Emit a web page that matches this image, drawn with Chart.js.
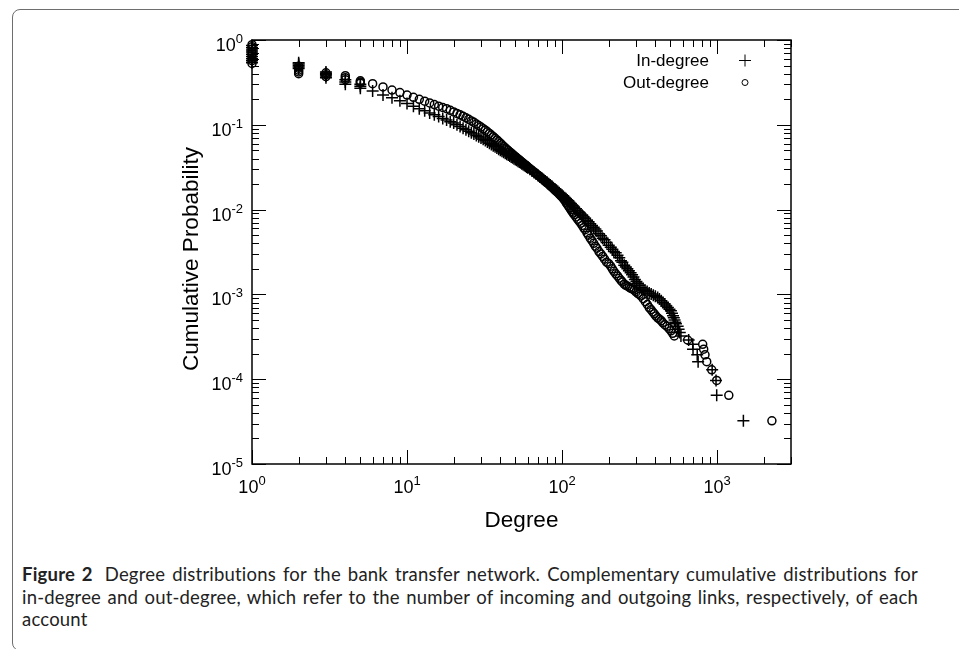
<!DOCTYPE html>
<html>
<head>
<meta charset="utf-8">
<script src="https://cdn.jsdelivr.net/npm/chart.js@4.4.0/dist/chart.umd.min.js"></script>
<style>
  html, body { margin: 0; padding: 0; background: #fff; }
  body { width: 959px; height: 649px; position: relative; overflow: hidden; }
  #frame { position: absolute; left: 12px; top: 9px; width: 1000px; height: 642px; border: 1.5px solid #6e6e6e; border-radius: 8px; box-sizing: border-box; }
  #chart { position: absolute; left: 0; top: 0; }
  #caption { position: absolute; left: 22px; top: 563px; width: 896px; font-family: Lato, "Open Sans", sans-serif; font-size: 18.5px; letter-spacing: 0.2px; line-height: 22.5px; color: #222; }
  #caption span { display: block; text-align: justify; text-align-last: justify; white-space: nowrap; }
  #caption span.last { text-align-last: left; }
  #caption b { margin-right: 5px; }
</style>
</head>
<body>
<div id="frame"></div>
<canvas id="chart" width="959" height="560"></canvas>
<div id="caption"><span><b>Figure 2</b> Degree distributions for the bank transfer network. Complementary cumulative distributions for</span><span>in-degree and out-degree, which refer to the number of incoming and outgoing links, respectively, of each</span><span class="last">account</span></div>
<script>
// In-degree CCDF, one point per node so low degrees form vertical runs
const inDegree = [
  1, 1, 1, 1, 1, 1, 1, 1, 1,
  2, 2, 2, 2, 2, 3, 3, 3, 3, 3, 4, 4, 4, 5, 5, 5,
  6, 7, 8, 9, 10, 11, 12, 13, 14, 15, 16, 17, 18, 19, 20,
  21, 22, 23, 24, 25, 26, 27, 28, 29, 30,
  31, 32, 33, 34, 35, 36, 37, 38, 39, 40,
  41, 42, 43, 44, 45, 46, 47, 48, 49, 50,
  51, 52, 53, 54, 55, 56, 57, 58, 59, 60,
  62, 64, 66, 68, 70, 72, 74, 76, 78, 80,
  82, 84, 86, 88, 90, 92, 94, 96, 98, 100,
  102, 104, 106, 108, 110, 112, 114, 116, 118, 120,
  123, 126, 129, 132, 135, 138, 141, 145, 148, 152, 156, 160,
  164, 168, 173, 178, 183, 188, 194, 200,
  206, 211, 216, 222, 228, 234, 240, 245, 252, 258, 264, 270, 277, 283, 289, 295, 302, 309, 316, 323,
  333, 343, 354, 365, 376, 388, 400, 414, 425, 437, 448, 460, 471, 482, 493, 504, 512, 520, 526, 532, 538, 543,
  557, 565, 575, 585, 656, 697, 700, 745, 755, 930, 985, 995, 1479];
const inProb = [
  0.86, 0.81, 0.76, 0.72, 0.68, 0.64, 0.60, 0.57, 0.54,
  0.54, 0.52, 0.50, 0.48, 0.46, 0.42, 0.405, 0.39, 0.375, 0.36, 0.34, 0.32, 0.30, 0.30, 0.285, 0.27,
  0.25, 0.225, 0.208, 0.192, 0.178, 0.166, 0.155, 0.146, 0.138, 0.131, 0.125, 0.119, 0.114, 0.109, 0.105,
  0.100, 0.0955, 0.0913, 0.0875, 0.084, 0.0808, 0.0778, 0.075, 0.0724, 0.070,
  0.0674, 0.0651, 0.0628, 0.0607, 0.0587, 0.0568, 0.055, 0.0533, 0.0516, 0.050,
  0.0487, 0.0474, 0.0462, 0.045, 0.0439, 0.0428, 0.0418, 0.0408, 0.0399, 0.039,
  0.0381, 0.0372, 0.0364, 0.0356, 0.0348, 0.034, 0.0333, 0.0326, 0.0319, 0.0312,
  0.0299, 0.0286, 0.0274, 0.0263, 0.0253, 0.0243, 0.0234, 0.0225, 0.0217, 0.021,
  0.0202, 0.0195, 0.0188, 0.0181, 0.0175, 0.0169, 0.0163, 0.0158, 0.0153, 0.0148,
  0.0143, 0.0138, 0.0134, 0.013, 0.0126, 0.0121, 0.0117, 0.0113, 0.011, 0.0106,
  0.0102, 0.0097, 0.0093, 0.0089, 0.0086, 0.0082, 0.0079, 0.0075, 0.0072, 0.0068, 0.0065, 0.0062,
  0.0059, 0.0056, 0.0052, 0.0049, 0.0046, 0.0044, 0.0041, 0.0038,
  0.0036, 0.0034, 0.0032, 0.0031, 0.0029, 0.0027, 0.0025, 0.0024, 0.0022, 0.0021, 0.002, 0.0019, 0.0018, 0.0017, 0.0016, 0.0015, 0.00142, 0.00135, 0.00128, 0.00121,
  0.00116, 0.00112, 0.00108, 0.00104, 0.00101, 0.00098, 0.00095, 0.00092, 0.00088, 0.00084, 0.0008, 0.00077, 0.00073, 0.0007, 0.00067, 0.00064, 0.0006, 0.00056, 0.00053, 0.0005, 0.00047, 0.00045,
  0.00042, 0.000387, 0.000355, 0.000323, 0.00029, 0.000258, 0.000226, 0.000194, 0.000161, 0.000129, 0.0000968, 0.0000645, 0.0000323];

// Out-degree CCDF
const outDegree = [
  1, 1, 1, 1, 1, 1, 1, 1, 1,
  2, 2, 2, 2, 2, 3, 3, 3, 4, 4, 4, 5, 5, 5,
  6, 7, 8, 9, 10, 11, 12, 13, 14, 15, 16, 17, 18, 19, 20,
  21, 22, 23, 24, 25, 26, 27, 28, 29, 30,
  31, 32, 33, 34, 35, 36, 37, 38, 39, 40,
  41, 42, 43, 44, 45, 46, 47, 48, 49, 50,
  51, 52, 53, 54, 55, 56, 57, 58, 59, 60,
  62, 64, 66, 68, 70, 72, 74, 76, 78, 80,
  82, 84, 86, 88, 90, 92, 94, 96, 98, 100,
  102, 104, 106, 108, 110, 112, 114, 116, 118, 120,
  123, 126, 129, 132, 135, 138, 141, 145, 148, 152, 156, 160,
  164, 168, 173, 178, 183, 188, 194, 200,
  206, 211, 216, 222, 228, 234, 240, 245, 252, 258, 265, 272, 278, 285, 292, 300, 308, 315, 323,
  334, 345, 355, 365, 375, 385, 394, 403, 414, 425, 436, 446, 460, 475, 490, 504, 517, 530,
  646, 808, 820, 836, 858, 924, 995, 1191, 2259];
const outProb = [
  0.88, 0.83, 0.78, 0.73, 0.69, 0.65, 0.61, 0.57, 0.53,
  0.49, 0.465, 0.44, 0.42, 0.40, 0.41, 0.39, 0.37, 0.38, 0.36, 0.34, 0.33, 0.32, 0.31,
  0.305, 0.28, 0.257, 0.24, 0.224, 0.211, 0.200, 0.190, 0.181, 0.173, 0.166, 0.160, 0.155, 0.148, 0.142,
  0.136, 0.131, 0.126, 0.121, 0.116, 0.111, 0.107, 0.102, 0.098, 0.094,
  0.0900, 0.0863, 0.0826, 0.0791, 0.0757, 0.0724, 0.0693, 0.0663, 0.0634, 0.0607,
  0.058, 0.0556, 0.0534, 0.0514, 0.0496, 0.0479, 0.0463, 0.0448, 0.0434, 0.0421,
  0.0408, 0.0396, 0.0385, 0.0374, 0.0364, 0.0354, 0.0345, 0.0336, 0.0328, 0.032,
  0.0305, 0.0291, 0.0278, 0.0266, 0.0255, 0.0244, 0.0234, 0.0224, 0.0215, 0.0207,
  0.0199, 0.0191, 0.0184, 0.0177, 0.017, 0.0164, 0.0158, 0.0152, 0.0146, 0.0141,
  0.0135, 0.0129, 0.0122, 0.0116, 0.011, 0.0105, 0.01, 0.0095, 0.0091, 0.0087,
  0.0082, 0.0077, 0.0073, 0.0069, 0.0065, 0.0061, 0.0058, 0.0053, 0.005, 0.0046, 0.0043, 0.004,
  0.0037, 0.0035, 0.0032, 0.003, 0.0028, 0.0026, 0.0024, 0.0023,
  0.00215, 0.002, 0.00187, 0.00175, 0.00165, 0.00155, 0.00146, 0.0014, 0.00132, 0.00128, 0.00125, 0.00121, 0.00118, 0.00116, 0.00112, 0.00107, 0.00103, 0.001, 0.00096,
  0.00089, 0.00082, 0.00076, 0.0007, 0.00066, 0.00062, 0.00059, 0.000557, 0.00053, 0.00051, 0.00049, 0.000466, 0.00044, 0.00042, 0.000395, 0.000372, 0.000348, 0.000324,
  0.00029, 0.000258, 0.000226, 0.000194, 0.000161, 0.000129, 0.0000968, 0.0000645, 0.0000323];

// axis ticks and labels
const xTicks = [1, 10, 100, 1000];
const xTickExp = ['0', '1', '2', '3'];
const yTicks = [1, 0.1, 0.01, 0.001, 0.0001, 0.00001];
const yTickExp = ['0', '-1', '-2', '-3', '-4', '-5'];
const seriesNames = ['In-degree', 'Out-degree'];

const tickFont = '18px "Liberation Sans", Arial, sans-serif';
const expFont = '13px "Liberation Sans", Arial, sans-serif';

function drawPower(ctx, exp, x, baseline, align) {
  ctx.font = tickFont;
  const w10 = ctx.measureText('10').width;
  ctx.font = expFont;
  const wExp = ctx.measureText(exp).width;
  const total = w10 + wExp;
  const start = align === 'right' ? x - total : x - total / 2;
  ctx.textAlign = 'left';
  ctx.font = tickFont;
  ctx.fillText('10', start, baseline);
  ctx.font = expFont;
  ctx.fillText(exp, start + w10, baseline - 8);
}

const gnuplotFrame = {
  id: 'gnuplotFrame',
  afterDatasetsDraw(chart) {
    const { ctx, chartArea: a, scales: { x, y } } = chart;
    ctx.save();
    ctx.strokeStyle = '#000';
    ctx.fillStyle = '#000';

    // inward ticks on all four sides
    ctx.lineWidth = 1;
    ctx.beginPath();
    xTicks.forEach(v => {
      for (let m = 1; m < 10; m++) {
        const val = v * m;
        if (val > x.max) break;
        const px = Math.round(x.getPixelForValue(val)) + 0.5;
        const len = m === 1 ? 14 : 7;
        ctx.moveTo(px, a.bottom); ctx.lineTo(px, a.bottom - len);
        ctx.moveTo(px, a.top); ctx.lineTo(px, a.top + len);
      }
    });
    yTicks.forEach(v => {
      for (let m = 1; m < 10; m++) {
        const val = v * m;
        if (val > y.max * 1.0001) break;
        const py = Math.round(y.getPixelForValue(val)) + 0.5;
        const len = m === 1 ? 14 : 7;
        ctx.moveTo(a.left, py); ctx.lineTo(a.left + len, py);
        ctx.moveTo(a.right, py); ctx.lineTo(a.right - len, py);
      }
    });
    ctx.stroke();

    // border
    ctx.lineWidth = 1.5;
    ctx.strokeRect(a.left, a.top, a.right - a.left, a.bottom - a.top);

    // tick labels
    ctx.textBaseline = 'alphabetic';
    xTicks.forEach((v, i) => drawPower(ctx, xTickExp[i], x.getPixelForValue(v), a.bottom + 29, 'center'));
    yTicks.forEach((v, i) => drawPower(ctx, yTickExp[i], a.left - 9, y.getPixelForValue(v) + 11, 'right'));

    // axis titles
    ctx.font = '22.5px "Liberation Sans", Arial, sans-serif';
    ctx.textAlign = 'center';
    ctx.fillText('Degree', (a.left + a.right) / 2, a.bottom + 63);
    ctx.save();
    ctx.translate(a.left - 54, 259);
    ctx.rotate(-Math.PI / 2);
    ctx.fillText('Cumulative Probability', 0, 0);
    ctx.restore();

    // key, text left of symbol as in gnuplot
    ctx.font = '17px "Liberation Sans", Arial, sans-serif';
    ctx.textAlign = 'right';
    const keyX = a.right - 82, symX = a.right - 46;
    ctx.fillText(seriesNames[0], keyX, a.top + 26);
    ctx.fillText(seriesNames[1], keyX, a.top + 47.5);
    ctx.lineWidth = 1;
    ctx.beginPath();
    ctx.moveTo(symX - 6, a.top + 20.5); ctx.lineTo(symX + 6, a.top + 20.5);
    ctx.moveTo(symX, a.top + 14.5); ctx.lineTo(symX, a.top + 26.5);
    ctx.stroke();
    ctx.beginPath();
    ctx.arc(symX, a.top + 42.5, 3, 0, Math.PI * 2);
    ctx.stroke();
    ctx.restore();
  }
};

const toPoints = (ks, ps) => ks.map((k, i) => ({ x: k, y: ps[i] }));

new Chart(document.getElementById('chart'), {
  type: 'scatter',
  data: {
    datasets: [
      {
        label: seriesNames[0],
        data: toPoints(inDegree, inProb),
        pointStyle: 'cross',
        pointRadius: 6,
        pointBorderWidth: 1.5,
        pointBorderColor: '#000',
        borderColor: '#000',
        pointBackgroundColor: 'rgba(0,0,0,0)',
        showLine: false,
        clip: false
      },
      {
        label: seriesNames[1],
        data: toPoints(outDegree, outProb),
        pointStyle: 'circle',
        pointRadius: 4,
        pointBorderWidth: 1.5,
        pointBorderColor: '#000',
        borderColor: '#000',
        pointBackgroundColor: 'rgba(0,0,0,0)',
        showLine: false,
        clip: false
      }
    ]
  },
  options: {
    responsive: false,
    devicePixelRatio: 1,
    animation: false,
    events: [],
    layout: { padding: { left: 252, top: 40, right: 168, bottom: 96 } },
    plugins: { legend: { display: false }, tooltip: { enabled: false } },
    scales: {
      x: { type: 'logarithmic', min: 1, max: 3000, display: false },
      y: { type: 'logarithmic', min: 0.00001, max: 1, display: false }
    }
  },
  plugins: [gnuplotFrame]
});
</script>
</body>
</html>
